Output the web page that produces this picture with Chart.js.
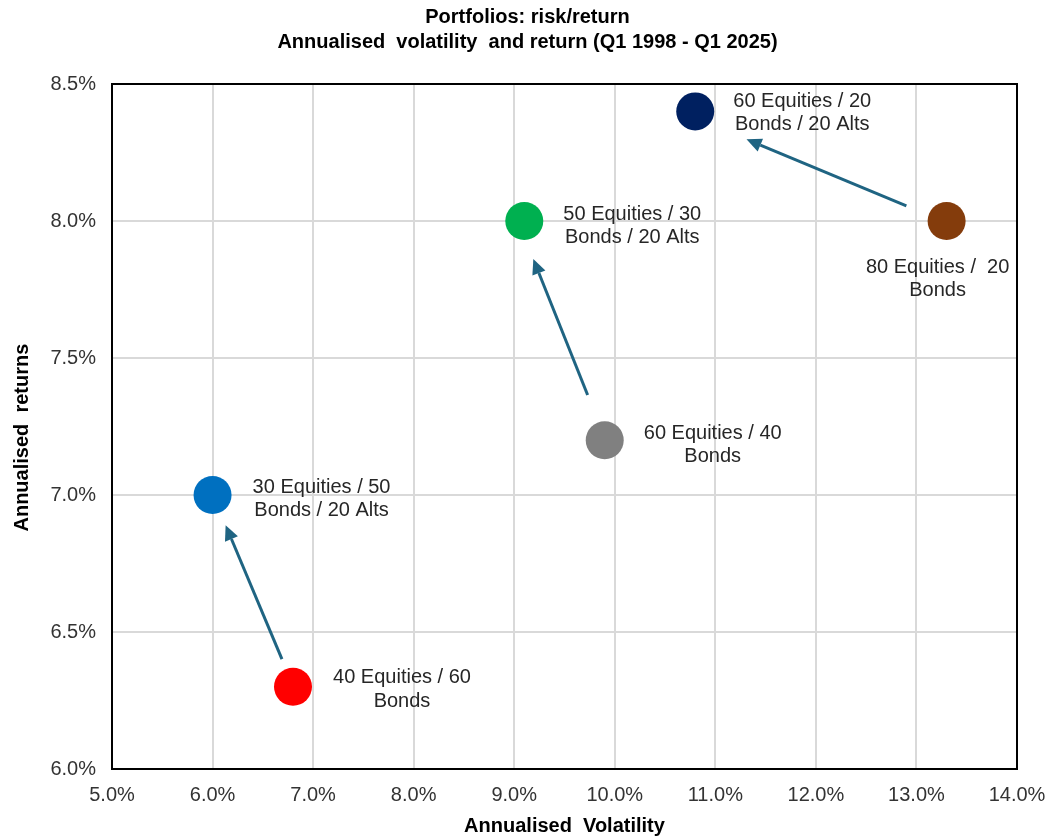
<!DOCTYPE html>
<html>
<head>
<meta charset="utf-8">
<title>Portfolios: risk/return</title>
<script src="https://cdn.jsdelivr.net/npm/chart.js@4/dist/chart.umd.min.js"></script>
<style>
  html, body { margin: 0; padding: 0; background: #ffffff; }
  canvas { display: block; }
</style>
</head>
<body>
<canvas id="chart" width="1045" height="838"></canvas>
<script>
// Portfolio mixes and their annualised volatility / return (%)
const portfolioLabels = [
  ["60 Equities / 20", "Bonds / 20 Alts"],
  ["80 Equities /  20", "Bonds"],
  ["50 Equities / 30", "Bonds / 20 Alts"],
  ["60 Equities / 40", "Bonds"],
  ["30 Equities / 50", "Bonds / 20 Alts"],
  ["40 Equities / 60", "Bonds"]
];
const volatility = [10.8, 13.3, 9.1, 9.9, 6.0, 6.8];
const returns    = [8.4, 8.0, 8.0, 7.2, 7.0, 6.3];
const pointColors = ["#002060", "#843C0C", "#00B050", "#808080", "#0070C0", "#FF0000"];

// Axis ranges and tick steps
const xMin = 5, xMax = 14, xStep = 1;
const yMin = 6, yMax = 8.5, yStep = 0.5;

// Arrows showing the move from a two-asset mix to the mix with alternatives
// (start and end given as [volatility, return])
const arrowStart = [[12.9, 8.055], [9.73, 7.365], [6.69, 6.401]];
const arrowEnd   = [[11.31, 8.298], [9.19, 7.861], [6.13, 6.89]];

// Where each label sits relative to its marker (pixels)
const labelPlacement = [
  { dx: 107, dy: -10 },
  { dx: -9,  dy: 46 },
  { dx: 108, dy: -7 },
  { dx: 108, dy: -7 },
  { dx: 109, dy: -8 },
  { dx: 109, dy: -9 }
];

const ARROW_COLOR = "#1F6482";
const TEXT_COLOR = "#262626";
const FONT = "'Liberation Sans', Arial, sans-serif";

const pct = v => v.toFixed(1) + "%";

// Full frame round the plot area
const frame = {
  id: "frame",
  afterDraw(chart) {
    const { ctx, chartArea: a } = chart;
    ctx.save();
    ctx.strokeStyle = "#000000";
    ctx.lineWidth = 2;
    ctx.strokeRect(a.left, a.top, a.right - a.left, a.bottom - a.top);
    ctx.restore();
  }
};

// Arrows, drawn below the markers
const arrows = {
  id: "arrows",
  beforeDatasetsDraw(chart) {
    const { ctx, scales: { x, y } } = chart;
    ctx.save();
    ctx.strokeStyle = ARROW_COLOR;
    ctx.fillStyle = ARROW_COLOR;
    ctx.lineWidth = 3;
    arrowStart.forEach((s, i) => {
      const e = arrowEnd[i];
      const x0 = x.getPixelForValue(s[0]), y0 = y.getPixelForValue(s[1]);
      const x1 = x.getPixelForValue(e[0]), y1 = y.getPixelForValue(e[1]);
      const ang = Math.atan2(y1 - y0, x1 - x0);
      const headLen = 15, headHalf = 7;
      const bx = x1 - headLen * Math.cos(ang), by = y1 - headLen * Math.sin(ang);
      ctx.beginPath();
      ctx.moveTo(x0, y0);
      ctx.lineTo(bx, by);
      ctx.stroke();
      ctx.beginPath();
      ctx.moveTo(x1, y1);
      ctx.lineTo(bx + headHalf * Math.sin(ang), by - headHalf * Math.cos(ang));
      ctx.lineTo(bx - headHalf * Math.sin(ang), by + headHalf * Math.cos(ang));
      ctx.closePath();
      ctx.fill();
    });
    ctx.restore();
  }
};

// Two-line labels next to each marker
const pointLabels = {
  id: "pointLabels",
  afterDatasetsDraw(chart) {
    const { ctx } = chart;
    const meta = chart.getDatasetMeta(0);
    ctx.save();
    ctx.fillStyle = TEXT_COLOR;
    ctx.font = "20px " + FONT;
    ctx.textAlign = "center";
    ctx.textBaseline = "middle";
    meta.data.forEach((pt, i) => {
      const p = labelPlacement[i];
      portfolioLabels[i].forEach((line, j) => {
        ctx.fillText(line, pt.x + p.dx, pt.y + p.dy + j * 23.5);
      });
    });
    ctx.restore();
  }
};

new Chart(document.getElementById("chart"), {
  type: "scatter",
  data: {
    datasets: [{
      data: volatility.map((v, i) => ({ x: v, y: returns[i] })),
      backgroundColor: pointColors,
      borderWidth: 0,
      pointRadius: 19,
      pointHoverRadius: 19
    }]
  },
  options: {
    responsive: false,
    animation: false,
    events: [],
    layout: { padding: { top: 0, right: 0, bottom: 0, left: 10 } },
    plugins: {
      legend: { display: false },
      tooltip: { enabled: false },
      title: {
        display: true,
        text: ["Portfolios: risk/return", "Annualised  volatility  and return (Q1 1998 - Q1 2025)"],
        color: "#000000",
        font: { family: FONT, size: 20, weight: "bold", lineHeight: 1.25 },
        padding: { top: 5, bottom: 29 }
      }
    },
    scales: {
      x: {
        type: "linear",
        min: xMin, max: xMax,
        ticks: {
          stepSize: xStep,
          padding: 14,
          color: "#333333",
          font: { family: FONT, size: 20 },
          callback: v => pct(v)
        },
        grid: { color: "#D9D9D9", lineWidth: 2, drawTicks: false },
        border: { display: true, color: "#000000", width: 2 },
        title: {
          display: true,
          text: "Annualised  Volatility",
          color: "#000000",
          font: { family: FONT, size: 20, weight: "bold", lineHeight: 1.2 },
          padding: { top: 0, bottom: 0 }
        },
        afterFit(scale) {
          scale.height = 69;
          scale.paddingRight = 28;
        }
      },
      y: {
        type: "linear",
        min: yMin, max: yMax,
        ticks: {
          stepSize: yStep,
          padding: 16,
          color: "#333333",
          font: { family: FONT, size: 20 },
          callback: v => pct(v)
        },
        grid: { color: "#D9D9D9", lineWidth: 2, drawTicks: false },
        border: { display: true, color: "#000000", width: 2 },
        title: {
          display: true,
          text: "Annualised  returns    ",
          color: "#000000",
          font: { family: FONT, size: 20, weight: "bold", lineHeight: 1.2 },
          padding: { top: 0, bottom: 0 }
        },
        afterFit(scale) { scale.width = 102; }
      }
    }
  },
  plugins: [arrows, pointLabels, frame]
});
</script>
</body>
</html>
